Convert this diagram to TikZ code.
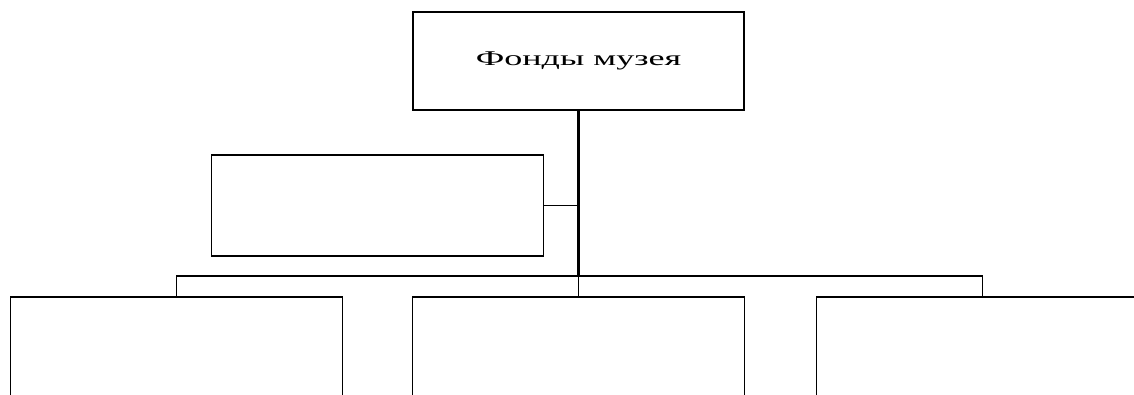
\documentclass[tikz,border=0pt]{standalone}
\usepackage{fontspec}
\setmainfont{Liberation Serif}
\usepackage{graphicx}
\usepackage{tikz}

\begin{document}
\begin{tikzpicture}[x=1pt, y=-1pt,%
% common options for the boxes:
box/.style = {rectangle, draw, line width=1.6pt, align=center,
            minimum width=332pt, inner sep=0},
% common options for the connectors:
link/.style = {line width=1.3pt}]
\useasboundingbox (0,0) rectangle (1134,394);
\clip (0,0) rectangle (1134,394);
\node[box,minimum width=331pt,minimum height=98pt] (fonds) at (578.5,61) {\scalebox{1.72}[1]{\fontsize{21}{25}\selectfont Фонды музея}};
\node[box,minimum height=101pt] (side) at (377.5,205.5) {};
\node[box,minimum height=150pt] (left) at (176.5,372) {};
\node[box,minimum height=150pt] (mid) at (578.5,372) {};
\node[box,minimum height=150pt] (right) at (982.5,372) {};
\coordinate (bar) at (578.5,276);
\draw[link,line width=2.4pt] (fonds.south) to (bar);
\draw[link] (bar) to (mid.north);
\draw[link] (side.east) to (side.east -| fonds.south);
\draw[link] (left.north) |- (bar) -| (right.north);
\end{tikzpicture}
\end{document}
